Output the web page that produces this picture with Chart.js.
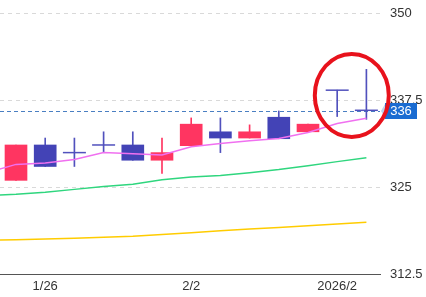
<!DOCTYPE html>
<html>
<head>
<meta charset="utf-8">
<script src="https://cdn.jsdelivr.net/npm/chart.js@4/dist/chart.umd.min.js"></script>
<style>
html,body{margin:0;padding:0;background:#fff;}
#wrap{width:426px;height:297px;position:relative;}
</style>
</head>
<body>
<div id="wrap"><canvas id="c" width="426" height="297"></canvas></div>
<script>
// ---- data (index 0 is the partly hidden day before the first visible candle) ----
const opens  = [null, 326.0, 331.1, 330.0, 331.1, 331.1, 328.9, 331.0, 333.0, 332.1, 335.1, 333.0, 339.0, 336.1];
const closes = [null, 331.1, 328.0, 330.0, 331.1, 328.9, 330.0, 334.1, 332.1, 333.0, 332.0, 334.1, 339.0, 336.1];
const highs  = [null, 331.1, 332.1, 332.1, 333.0, 333.0, 332.1, 335.0, 335.0, 334.0, 336.0, 334.1, 339.0, 342.0];
const lows   = [null, 326.0, 328.0, 328.0, 330.0, 328.9, 327.0, 331.0, 330.0, 332.1, 332.0, 333.0, 335.2, 334.8];
const ma5    = [327.1, 328.3, 328.5, 329.0, 330.0, 329.85, 329.65, 330.85, 331.3, 331.7, 332.05, 332.9, 334.2, 334.95];
const ma25   = [323.8, 324.0, 324.3, 324.7, 325.1, 325.45, 326.1, 326.5, 326.7, 327.1, 327.55, 328.1, 328.7, 329.25];
const ma75   = [317.35, 317.45, 317.55, 317.65, 317.8, 317.95, 318.2, 318.45, 318.75, 319.0, 319.2, 319.45, 319.7, 319.95];
const xTickIndex = [2, 7, 12];
const xTickText  = ['1/26', '2/2', '2026/2'];
const yTicks = [312.5, 325, 337.5, 350];
const lastPrice = 336;
const markCenter = {x: 12.5, y: 338.25};

const RED = '#ff3561';
const BLUE = '#4343b6';
const FONT = "'Liberation Sans', Arial, sans-serif";

const idx = opens.map((_, i) => i);
const isUp = i => closes[i] > opens[i];
const bodies = idx.filter(i => opens[i] != null && opens[i] !== closes[i])
  .map(i => ({x: i, y: [opens[i], closes[i]]}));
const dojis = idx.filter(i => opens[i] != null && opens[i] === closes[i])
  .map(i => ({x: i, y: opens[i]}));
const wicks = idx.filter(i => highs[i] != null)
  .map(i => ({x: i, y: [lows[i], highs[i]]}));
const line = arr => arr.map((v, i) => ({x: i, y: v}));

const overlay = {
  id: 'overlay',
  beforeDatasetsDraw(chart) {
    const {ctx, chartArea: a, scales: {y}} = chart;
    const py = Math.round(y.getPixelForValue(lastPrice)) + 0.5;
    ctx.save();
    ctx.strokeStyle = '#4a7fc2';
    ctx.lineWidth = 1;
    ctx.setLineDash([4, 3]);
    ctx.beginPath(); ctx.moveTo(a.left, py); ctx.lineTo(a.right, py); ctx.stroke();
    ctx.restore();
  },
  afterDraw(chart) {
    const {ctx, chartArea: a, scales: {x, y}} = chart;
    const py = y.getPixelForValue(lastPrice);
    ctx.save();
    // small pointer
    ctx.fillStyle = '#bcd3ef';
    ctx.beginPath(); ctx.moveTo(a.right + 1, py); ctx.lineTo(a.right + 5, py - 7); ctx.lineTo(a.right + 5, py + 7); ctx.closePath(); ctx.fill();
    // price box
    ctx.fillStyle = '#1a6cd2';
    ctx.fillRect(a.right + 5, Math.round(py) - 8, 32, 16);
    ctx.fillStyle = '#fff';
    ctx.font = '13px ' + FONT;
    ctx.textAlign = 'center';
    ctx.textBaseline = 'middle';
    ctx.fillText(String(lastPrice), a.right + 21, Math.round(py) + 0.5);
    // red ellipse mark
    ctx.strokeStyle = '#e8121c';
    ctx.lineWidth = 4;
    ctx.beginPath();
    ctx.ellipse(x.getPixelForValue(markCenter.x), y.getPixelForValue(markCenter.y), 37, 41.5, 0, 0, Math.PI * 2);
    ctx.stroke();
    ctx.restore();
  }
};

new Chart(document.getElementById('c'), {
  type: 'bar',
  data: {
    datasets: [
      {type: 'line', data: line(ma5), borderColor: '#f070f0', borderWidth: 1.5, pointRadius: 0, order: 0},
      {type: 'line', data: line(ma25), borderColor: '#2fd67e', borderWidth: 1.5, pointRadius: 0, order: 0},
      {type: 'line', data: line(ma75), borderColor: '#ffcc00', borderWidth: 1.5, pointRadius: 0, order: 0},
      {type: 'line', data: dojis, showLine: false, pointStyle: 'line', pointRadius: 11.5, pointHoverRadius: 11.5,
       pointBorderColor: '#5151bd', pointBorderWidth: 1.5, borderColor: '#5151bd', order: 1, clip: false},
      {data: bodies, barThickness: 22, grouped: false, borderWidth: 0, order: 1,
       backgroundColor: c => (c.raw && c.raw.y[1] > c.raw.y[0]) ? RED : BLUE},
      {data: wicks, barThickness: 1, grouped: false, borderWidth: 0, order: 2,
       backgroundColor: c => (c.raw && isUp(c.raw.x)) ? RED : '#5151bd'}
    ]
  },
  options: {
    animation: false,
    responsive: false,
    events: [],
    layout: {padding: 0, autoPadding: false},
    plugins: {legend: {display: false}, tooltip: {enabled: false}},
    scales: {
      x: {
        type: 'linear', min: 0.452, max: 13.466, offset: false,
        grid: {display: false, offset: false, drawTicks: false},
        border: {display: true, color: '#555', width: 1},
        afterBuildTicks: s => { s.ticks = xTickIndex.map(v => ({value: v})); },
        afterFit: s => { s.height = 23; s.paddingLeft = 0; s.paddingRight = 0; },
        ticks: {
          autoSkip: false, maxRotation: 0, padding: 5, color: '#333',
          font: {family: FONT, size: 13},
          callback: v => xTickText[xTickIndex.indexOf(v)]
        }
      },
      y: {
        position: 'right', min: 312.5, max: 352,
        grid: {drawTicks: false, color: c => (c.tick && c.tick.value === 312.5) ? 'rgba(0,0,0,0)' : '#d9d9d9', lineWidth: 1},
        border: {display: false, dash: [4, 4]},
        afterBuildTicks: s => { s.ticks = yTicks.map(v => ({value: v})); },
        afterFit: s => { s.width = 46; s.paddingTop = 0; s.paddingBottom = 0; },
        ticks: {padding: 10, color: '#333', font: {family: FONT, size: 13}, callback: v => String(v)}
      }
    }
  },
  plugins: [overlay]
});
</script>
</body>
</html>
